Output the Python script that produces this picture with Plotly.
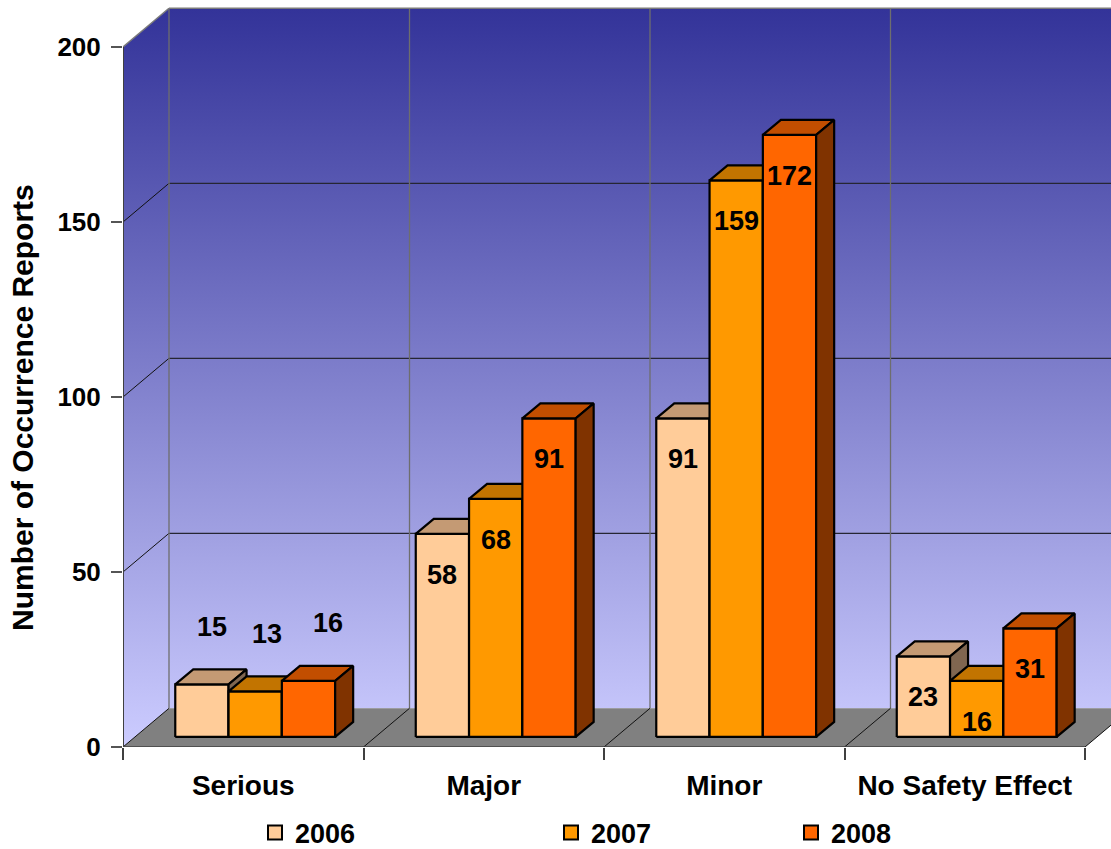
import plotly.graph_objects as go

# ---------------- data ----------------
CATEGORIES = ["Serious", "Major", "Minor", "No Safety Effect"]
YEARS = ["2006", "2007", "2008"]
REPORTS_2006 = [15, 58, 91, 23]
REPORTS_2007 = [13, 68, 159, 16]
REPORTS_2008 = [16, 91, 172, 31]
Y_TICKS = [0, 50, 100, 150, 200]
Y_TITLE = "Number of Occurrence Reports"

SERIES = [REPORTS_2006, REPORTS_2007, REPORTS_2008]

# ---------------- style ----------------
FRONT = ["#FFCC99", "#FF9900", "#FF6600"]
TOP = ["#C49A74", "#C27400", "#C24E00"]
SIDE = ["#806650", "#804D00", "#803300"]
FONT = "Liberation Sans, Arial, sans-serif"

W, H = 1111, 849
ML, MB = 123, 102
PX_X = 240.5          # pixels per category
PX_Y = 3.5            # pixels per value unit
x_max = (W - ML) / PX_X
y_max = (H - MB) / PX_Y

WDX, WDY = 46 / PX_X, 38.7 / PX_Y        # depth of the 3-D box
FR = 0.26                                # bars' front plane, fraction of depth
BX0, BY0 = FR * WDX, FR * WDY
BDX, BDY = 18 / PX_X, 15 / PX_Y          # depth of each bar
BW = 53.3 / PX_X                         # bar width
n = len(CATEGORIES)
YTOP = max(Y_TICKS)
GRAD = [[0, "#CCCCFF"], [1, "#333399"]]

fig = go.Figure()


def poly(xs, ys, fill, line_color="rgba(0,0,0,0)", lw=0, grad=None):
    kw = dict(x=xs, y=ys, mode="lines", fill="toself", line=dict(color=line_color, width=lw),
              hoverinfo="skip", showlegend=False)
    if grad:
        kw["fillgradient"] = dict(type="vertical", colorscale=grad, start=0, stop=YTOP + WDY)
    else:
        kw["fillcolor"] = fill
    fig.add_trace(go.Scatter(**kw))


def segs(pairs, color, width):
    xs, ys = [], []
    for (xa, ya), (xb, yb) in pairs:
        xs += [xa, xb, None]
        ys += [ya, yb, None]
    fig.add_trace(go.Scatter(x=xs, y=ys, mode="lines", line=dict(color=color, width=width),
                             hoverinfo="skip", showlegend=False))


# walls
poly([WDX, n + WDX, n + WDX, WDX, WDX], [WDY, WDY, YTOP + WDY, YTOP + WDY, WDY], None, grad=GRAD)
poly([0, WDX, WDX, 0, 0], [0, WDY, YTOP + WDY, YTOP, 0], None, grad=GRAD)
# floor
poly([0, n, n + WDX, WDX, 0], [0, 0, WDY, WDY, 0], "#808080")

# grid lines
segs([((0, t), (WDX, t + WDY)) for t in Y_TICKS[:-1]], "#111111", 1)
segs([((WDX, t + WDY), (n + WDX, t + WDY)) for t in Y_TICKS[1:-1]], "#262633", 1.2)
segs([((k + WDX, WDY), (k + WDX, YTOP + WDY)) for k in range(n + 1)], "#6E6E6E", 1.3)
segs([((0, YTOP), (WDX, YTOP + WDY)), ((WDX, YTOP + WDY), (n + WDX, YTOP + WDY))], "#7A7A7A", 1.5)
segs([((k, 0), (k + WDX, WDY)) for k in range(1, n + 1)], "#111111", 1)
segs([((0, 0), (n, 0))], "#404040", 1.5)
segs([((0, 0), (0, YTOP))], "#404040", 2)

# bars
for s, vals in enumerate(SERIES):
    fx, fy, tx, ty, sx, sy = [], [], [], [], [], []
    for c, v in enumerate(vals):
        x0 = c + 0.5 - 1.5 * BW + s * BW + BX0
        x1 = x0 + BW
        y0, y1 = BY0, BY0 + v
        fx += [x0, x1, x1, x0, x0, None]
        fy += [y0, y0, y1, y1, y0, None]
        tx += [x0, x1, x1 + BDX, x0 + BDX, x0, None]
        ty += [y1, y1, y1 + BDY, y1 + BDY, y1, None]
        sx += [x1, x1 + BDX, x1 + BDX, x1, x1, None]
        sy += [y0, y0 + BDY, y1 + BDY, y1, y0, None]
    poly(fx, fy, FRONT[s], "black", 2.2)
    poly(tx, ty, TOP[s], "black", 2.2)
    poly(sx, sy, SIDE[s], "black", 2.2)

# data labels
LABEL_DROP = 11.6          # inside-bar labels, below top
ABOVE_RISE = 16.5          # labels drawn above the bars (first category)
ABOVE_SHIFT_PX = [10, 12, 19]
ABOVE_CATEGORY = 0
for s, vals in enumerate(SERIES):
    for c, v in enumerate(vals):
        xc = c + 0.5 - 1.5 * BW + (s + 0.5) * BW + BX0
        if c == ABOVE_CATEGORY:
            xl, yl = xc + ABOVE_SHIFT_PX[s] / PX_X, BY0 + v + ABOVE_RISE
        else:
            xl, yl = xc, BY0 + v - LABEL_DROP
        fig.add_annotation(x=xl, y=yl, xref="x", yref="y", text=str(v), showarrow=False,
                           xanchor="center", yanchor="middle",
                           font=dict(family=FONT, size=27, color="black", weight="bold"))

# y-axis title
fig.add_annotation(x=(22 - ML) / (W - ML), y=(H - MB - 408) / (H - MB), xref="paper", yref="paper",
                   text=Y_TITLE, textangle=-90, showarrow=False, xanchor="center", yanchor="middle",
                   font=dict(family=FONT, size=30, color="black", weight="bold"))

# legend entries
LEG_X_PX = [255, 551, 791]
for s, year in enumerate(YEARS):
    lname = "legend" if s == 0 else f"legend{s + 1}"
    fig.add_trace(go.Scatter(x=[None], y=[None], mode="markers", name=year,
                             marker=dict(symbol="square", size=14, color=FRONT[s],
                                         line=dict(color="black", width=2)),
                             legend=lname, showlegend=True))

leg_common = dict(orientation="h", yanchor="middle", xanchor="left", bgcolor="rgba(0,0,0,0)",
                  xref="container", yref="container", y=(H - 833) / H,
                  font=dict(family=FONT, size=27, color="black", weight="bold"))
fig.update_layout(
    legend=dict(x=LEG_X_PX[0] / W, **leg_common),
    legend2=dict(x=LEG_X_PX[1] / W, **leg_common),
    legend3=dict(x=LEG_X_PX[2] / W, **leg_common),
)

fig.update_layout(
    width=W, height=H, autosize=False,
    margin=dict(l=ML, r=0, t=0, b=MB, pad=0, autoexpand=False),
    paper_bgcolor="white", plot_bgcolor="white",
    xaxis=dict(range=[0, x_max], showgrid=False, zeroline=False, showline=False, automargin=False,
               tickvals=[c + 0.5 for c in range(n)], ticktext=CATEGORIES, ticks="",
               ticklabelstandoff=19,
               tickfont=dict(family=FONT, size=28, color="black", weight="bold"),
               minor=dict(tickvals=list(range(n + 1)), ticks="outside", ticklen=12,
                          tickcolor="#404040", tickwidth=1.5, showgrid=False),
               fixedrange=True),
    yaxis=dict(range=[0, y_max], showgrid=False, zeroline=False, showline=False, automargin=False,
               tickvals=Y_TICKS, ticks="outside", ticklen=11, tickcolor="#555555", tickwidth=1.5,
               ticklabelstandoff=5,
               tickfont=dict(family=FONT, size=26, color="black", weight="bold"),
               fixedrange=True),
)

fig.write_html("out.html", config={"displayModeBar": False},
               post_script="document.body.style.margin='0';document.body.style.padding='0';")
